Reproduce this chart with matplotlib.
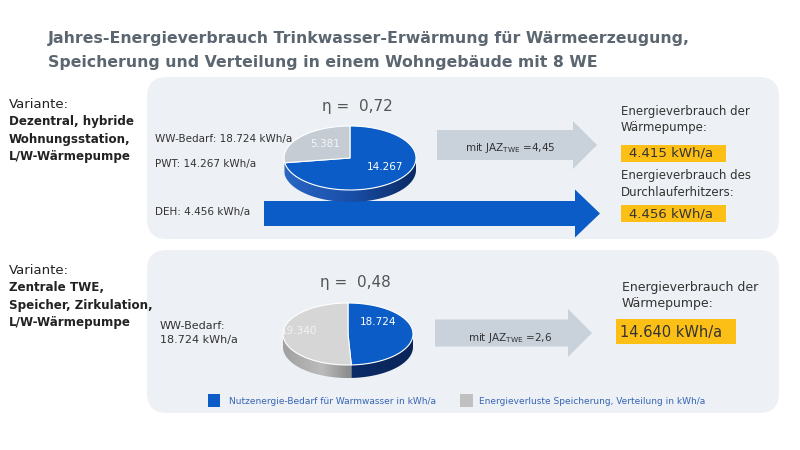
import numpy as np
import matplotlib
matplotlib.use("Agg")
import matplotlib.pyplot as plt
from matplotlib.patches import FancyBboxPatch, Polygon, Rectangle
from matplotlib.colors import LinearSegmentedColormap

plt.rcParams['font.family'] = ['DejaVu Sans']

# ---------------- data ----------------
title_lines = ["Jahres-Energieverbrauch Trinkwasser-Erwärmung für Wärmeerzeugung,",
               "Speicherung und Verteilung in einem Wohngebäude mit 8 WE"]
variant1 = ["Dezentral, hybride", "Wohnungsstation,", "L/W-Wärmepumpe"]
variant2 = ["Zentrale TWE,", "Speicher, Zirkulation,", "L/W-Wärmepumpe"]
pie1_values = [14267, 5381]          # Nutzenergie, Verluste
pie2_values = [18724, 19340]
pie1_labels = ["14.267", "5.381"]
pie2_labels = ["18.724", "19.340"]
eta_values = ["0,72", "0,48"]
jaz_values = ["4,45", "2,6"]
consumption_wp = ["4.415 kWh/a", "14.640 kWh/a"]
consumption_deh = "4.456 kWh/a"
left_labels1 = ["WW-Bedarf: 18.724 kWh/a", "PWT: 14.267 kWh/a", "DEH: 4.456 kWh/a"]
left_labels2 = ["WW-Bedarf:", "18.724 kWh/a"]
legend_labels = ["Nutzenergie-Bedarf für Warmwasser in kWh/a",
                 "Energieverluste Speicherung, Verteilung in kWh/a"]

BLUE = "#0b5cc6"
GREY1 = "#c6ccd4"
GREY2 = "#d6d6d6"
ORANGE = "#fcbf16"
PANEL = "#edf0f4"
ARROW_GREY = "#c9d1db"
TXT = "#333333"

fig = plt.figure(figsize=(8, 4.5), dpi=100)
ax = fig.add_axes([0, 0, 1, 1])
ax.set_xlim(0, 800)
ax.set_ylim(450, 0)
ax.axis("off")

# ---------------- title ----------------
for i, line in enumerate(title_lines):
    ax.text(48, 38 + i * 24, line, fontsize=11.3, fontweight="bold", color="#5b6670",
            va="center", ha="left")

# ---------------- panels ----------------
for (y0, y1) in [(77, 239), (250, 413)]:
    ax.add_patch(FancyBboxPatch((147 + 20, y0 + 20), 632 - 40, (y1 - y0) - 40,
                                boxstyle="round,pad=20", fc=PANEL, ec="none", zorder=0))

# ---------------- variant labels ----------------
def variant(y, lines):
    ax.text(9, y, "Variante:", fontsize=9.5, color="#222222", va="center")
    for i, l in enumerate(lines):
        ax.text(9, y + 17.5 * (i + 1), l, fontsize=8.6, fontweight="bold",
                color="#222222", va="center")
variant(104, variant1)
variant(270, variant2)

# ---------------- 3D pie ----------------
def pie3d(cx, cy, a, b, depth, values, top_colors, side_stops, edge="white"):
    total = float(sum(values))
    start = 90.0
    spans = []
    for v in values:
        ext = 360.0 * v / total
        spans.append((start - ext, start))   # clockwise
        start -= ext
    # sides (front half only), shaded by gradient clipped to side polygon
    for (t0, t1), stops in zip(spans, side_stops):
        # restrict to front half (angles where sin < 0)
        lo, hi = t0, t1
        # normalize into (-180, 180] windows: front half is (-180, 0)
        segs = []
        for off in (-360, 0, 360):
            s0 = max(lo + off, -180.0)
            s1 = min(hi + off, 0.0)
            if s1 > s0:
                segs.append((s0, s1))
        for s0, s1 in segs:
            th = np.deg2rad(np.linspace(s0, s1, 150))
            xt = cx + a * np.cos(th)
            yt = cy - b * np.sin(th)
            pts = list(zip(xt, yt)) + list(zip(xt[::-1], yt[::-1] + depth))
            poly = Polygon(pts, closed=True, fc="none", ec="none", zorder=2)
            ax.add_patch(poly)
            cmap = LinearSegmentedColormap.from_list("s", stops)
            grad = np.linspace(0, 1, 256)[None, :]
            im = ax.imshow(grad, cmap=cmap, extent=(cx - a, cx + a, cy + b + depth + 2, cy - 2),
                           aspect="auto", zorder=2, interpolation="bilinear")
            im.set_clip_path(poly)
    # tops
    for (t0, t1), tc in zip(spans, top_colors):
        th = np.deg2rad(np.linspace(t0, t1, 200))
        xs = np.concatenate([[cx], cx + a * np.cos(th)])
        ys = np.concatenate([[cy], cy - b * np.sin(th)])
        ax.add_patch(Polygon(list(zip(xs, ys)), closed=True, fc=tc, ec=edge, lw=0.8, zorder=3))
    return spans

pie3d(350, 158, 66, 32, 12, pie1_values, [BLUE, GREY1],
      [[(0, "#2a66c4"), (0.5, "#1a4fa8"), (1, "#0a2a62")],
       [(0, "#8d96a3"), (1, "#6d7683")]])
ax.text(385, 167, pie1_labels[0], fontsize=7.5, color="white", ha="center", va="center", zorder=4)
ax.text(325, 144, pie1_labels[1], fontsize=7.5, color="#f4f6f8", ha="center", va="center", zorder=4)

pie3d(348, 334, 65, 31, 13, pie2_values, [BLUE, GREY2],
      [[(0, "#0e3a80"), (0.5, "#0b2c68"), (1, "#0a2558")],
       [(0, "#a0a0a0"), (0.3, "#bcbcbc"), (0.5, "#8e8e8e"), (1, "#8e8e8e")]])
ax.text(378, 322, pie2_labels[0], fontsize=7.5, color="white", ha="center", va="center", zorder=4)
ax.text(299, 331, pie2_labels[1], fontsize=7.5, color="#f4f4f4", ha="center", va="center", zorder=4)

# eta
ax.text(357, 107, "η =  " + eta_values[0], fontsize=11, color="#555555", ha="center", va="center")
ax.text(355, 282, "η =  " + eta_values[1], fontsize=11, color="#555555", ha="center", va="center")

# left labels
ax.text(155, 139, left_labels1[0], fontsize=7.5, color=TXT, va="center")
ax.text(155, 164, left_labels1[1], fontsize=7.5, color=TXT, va="center")
ax.text(155, 212, left_labels1[2], fontsize=7.5, color=TXT, va="center")
ax.text(160, 326, left_labels2[0], fontsize=8, color=TXT, va="center")
ax.text(160, 340, left_labels2[1], fontsize=8, color=TXT, va="center")

# ---------------- arrows ----------------
def arrow(x0, xh, xt, yc, hb, hh, color, z=1):
    pts = [(x0, yc - hb), (xh, yc - hb), (xh, yc - hh), (xt, yc), (xh, yc + hh),
           (xh, yc + hb), (x0, yc + hb)]
    ax.add_patch(Polygon(pts, closed=True, fc=color, ec="none", zorder=z))

arrow(437, 573, 597, 145, 15, 24, ARROW_GREY)
arrow(264, 575, 600, 213.5, 12.5, 24, BLUE, z=1)
arrow(435, 568, 592, 333, 13.5, 24, ARROW_GREY)

ax.text(510, 148, "mit JAZ$_\\mathregular{TWE}$ =" + jaz_values[0], fontsize=7.5,
        color=TXT, ha="center", va="center", zorder=4)
ax.text(510, 338, "mit JAZ$_\\mathregular{TWE}$ =" + jaz_values[1], fontsize=7.5,
        color=TXT, ha="center", va="center", zorder=4)

# ---------------- right side ----------------
ax.text(621, 112, "Energieverbrauch der", fontsize=8.5, color=TXT, va="center")
ax.text(621, 128, "Wärmepumpe:", fontsize=8.5, color=TXT, va="center")
ax.add_patch(Rectangle((621, 145), 105, 16.5, fc=ORANGE, ec="none"))
ax.text(629, 153.5, consumption_wp[0], fontsize=9.5, color=TXT, va="center")

ax.text(621, 176, "Energieverbrauch des", fontsize=8.5, color=TXT, va="center")
ax.text(621, 192, "Durchlauferhitzers:", fontsize=8.5, color=TXT, va="center")
ax.add_patch(Rectangle((621, 205), 105, 17, fc=ORANGE, ec="none"))
ax.text(629, 214, consumption_deh, fontsize=9.5, color=TXT, va="center")

ax.text(622, 288, "Energieverbrauch der", fontsize=9, color=TXT, va="center")
ax.text(622, 304, "Wärmepumpe:", fontsize=9, color=TXT, va="center")
ax.add_patch(Rectangle((616, 319), 120, 25, fc=ORANGE, ec="none"))
ax.text(620, 332, consumption_wp[1], fontsize=10.5, color=TXT, va="center")

# ---------------- legend ----------------
ax.add_patch(Rectangle((208, 394), 12, 13, fc=BLUE, ec="none"))
ax.text(229, 401, legend_labels[0], fontsize=6.5, color="#3565b5", va="center")
ax.add_patch(Rectangle((460, 394), 13, 13, fc="#c0c0c0", ec="none"))
ax.text(479, 401, legend_labels[1], fontsize=6.5, color="#3565b5", va="center")

ax.set_xlim(0, 800)
ax.set_ylim(450, 0)
fig.savefig("out.png", dpi=100, facecolor="white")
